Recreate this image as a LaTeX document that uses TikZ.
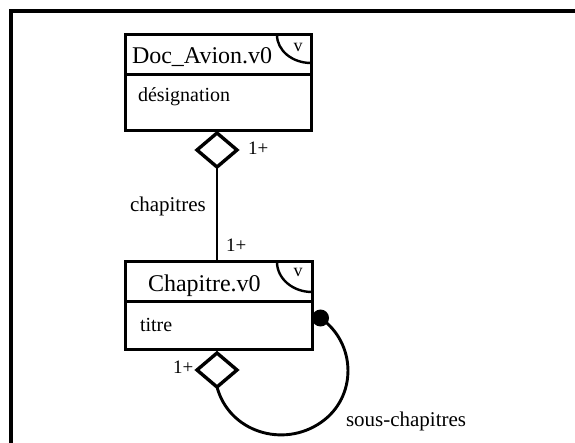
\documentclass[tikz,border=0pt]{standalone}
\usepackage{fontspec}
\setmainfont{Liberation Serif}
\usetikzlibrary{shapes.geometric}
\begin{document}
\begin{tikzpicture}[x=1pt,y=1pt,
  boxpart/.style={draw, line width=3pt, rectangle, inner sep=0pt, outer sep=0pt},
  agg/.style={draw, line width=3.4pt, diamond, aspect=1.18, minimum width=40pt, minimum height=34pt, inner sep=0pt, outer sep=0pt, fill=white},
  lbl/.style={inner sep=0pt, outer sep=0pt, anchor=base west},
  conn/.style={line width=2.9pt},
  corner/.style={line width=2.4pt},
  titlefont/.style={font=\fontsize{24}{28}\selectfont},
  attrfont/.style={font=\fontsize{20}{24}\selectfont},
  labfont/.style={font=\fontsize{21}{25}\selectfont},
  multfont/.style={font=\fontsize{19}{23}\selectfont},
  vfont/.style={font=\fontsize{18}{21}\selectfont}
]
\useasboundingbox (0,0) rectangle (575,-443);
% frame
\draw[line width=3.4pt] (11,-443) -- (11,-11) -- (575,-11);

% Doc_Avion box
\node[boxpart, minimum width=186pt, minimum height=40pt] (docH) at (218,-55) {};
\node[boxpart, minimum width=186pt, minimum height=56pt] (docB) at (218,-103) {};
\draw[corner] ([xshift=-34pt]docH.north east) arc[start angle=180, end angle=270, x radius=34pt, y radius=28pt];
\node[lbl, titlefont] (docT) at (132,-63.3) {Doc\_Avion.v0};
\node[inner sep=0pt, anchor=base, vfont] (docV) at (298,-51.7) {v};
\node[lbl, attrfont] (docA) at (138,-101.7) {désignation};

% Chapitre box
\node[boxpart, minimum width=187pt, minimum height=40pt] (chH) at (218.5,-282) {};
\node[boxpart, minimum width=187pt, minimum height=47pt] (chB) at (218.5,-325.5) {};
\draw[corner] ([xshift=-35pt]chH.north east) arc[start angle=180, end angle=270, x radius=35pt, y radius=30pt];
\node[lbl, titlefont] (chT) at (148,-291.7) {Chapitre.v0};
\node[inner sep=0pt, anchor=base, vfont] (chV) at (298,-276.7) {v};
\node[lbl, attrfont] (chA) at (140,-331.7) {titre};

% aggregation chapitres
\node[agg] (d1) at (217,-150) {};
\draw[conn] (d1.south) -- (d1.south |- chH.north);
\node[lbl, multfont] (m1) at (248,-155) {1+};
\node[lbl, labfont] (lchap) at (130,-211.7) {chapitres};
\node[lbl, multfont] (m2) at (226,-251.7) {1+};

% aggregation sous-chapitres
\node[agg] (d2) at (217,-370) {};
\node[lbl, multfont] (m3) at (173,-373.3) {1+};
\node[circle, fill=black, minimum size=17pt, inner sep=0pt] (dot) at (320.5,-318) {};
\coordinate (loopb) at (321.3,-422.2);
\draw[conn] (d2.south) to[out=-75, in=215, looseness=1.08] (loopb)
  to[out=35, in=-35, looseness=1.08] (dot.center);
\node[lbl, labfont] (lsous) at (346,-426.7) {sous-chapitres};
\end{tikzpicture}
\end{document}
